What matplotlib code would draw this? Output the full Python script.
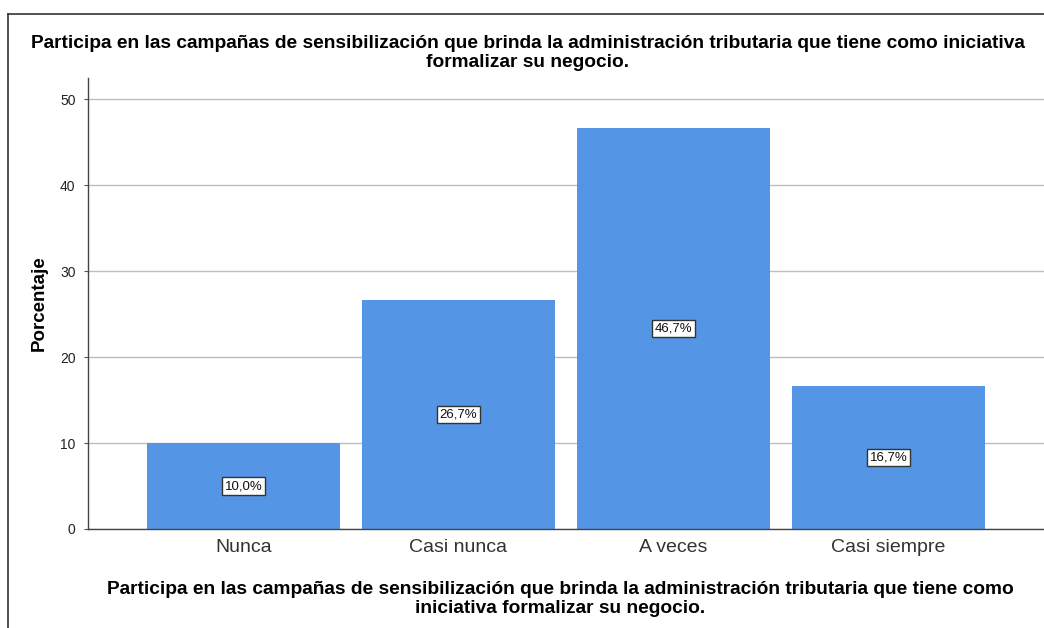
import matplotlib.pyplot as plt
from matplotlib.lines import Line2D

categorias = ['Nunca', 'Casi nunca', 'A veces', 'Casi siempre']
porcentajes = [10.0, 26.7, 46.7, 16.7]
etiquetas = ['10,0%', '26,7%', '46,7%', '16,7%']
y_ticks = [0, 10, 20, 30, 40, 50]

titulo = ('Participa en las campañas de sensibilización que brinda la administración tributaria que tiene como iniciativa\n'
          'formalizar su negocio.')
titulo_x = ('Participa en las campañas de sensibilización que brinda la administración tributaria que tiene como\n'
            'iniciativa formalizar su negocio.')

plt.rcParams['font.family'] = ['Liberation Sans', 'DejaVu Sans']

fig = plt.figure(figsize=(10.44, 6.28), dpi=100)
ax = fig.add_axes([88 / 1044, 1 - 529 / 628, 1 - 88 / 1044, (529 - 78) / 628])

x = list(range(len(categorias)))
ax.bar(x, porcentajes, width=0.9, color='#5595E5', zorder=2)
ax.set_xlim(-0.723, 3.723)
ax.set_ylim(0, 52.5)
ax.set_yticks(y_ticks)
ax.set_yticklabels([str(v) for v in y_ticks], fontsize=10, color='#222222')
ax.set_xticks(x)
ax.set_xticklabels(categorias, fontsize=14, color='#333333')
ax.tick_params(axis='x', length=0, pad=7)
ax.tick_params(axis='y', length=3, width=0.8, color='#555555', pad=6)
ax.grid(axis='y', color='#bdbdbd', linewidth=1, zorder=1)

for s in ['top', 'right']:
    ax.spines[s].set_visible(False)
for s in ['left', 'bottom']:
    ax.spines[s].set_color('#444444')
    ax.spines[s].set_linewidth(1)
    ax.spines[s].set_zorder(3)

for xi, v, lab in zip(x, porcentajes, etiquetas):
    ax.text(xi, v / 2, lab, ha='center', va='center', fontsize=9.5, color='#111111', zorder=4,
            bbox=dict(boxstyle='square,pad=0.2', facecolor='white', edgecolor='#333333', linewidth=1))

ax.set_ylabel('Porcentaje', fontsize=13.5, fontweight='bold')
ax.yaxis.set_label_coords(-40 / 956, 0.5)

fig.text(528 / 1044, 1 - 53 / 628, titulo, ha='center', va='center', fontsize=13.8,
         fontweight='bold', linespacing=1.1)
fig.text(560 / 1044, 1 - 599 / 628, titulo_x, ha='center', va='center', fontsize=13.8,
         fontweight='bold', linespacing=1.1)

# marco exterior (solo borde superior e izquierdo visibles)
fig.add_artist(Line2D([8 / 1044, 1.0], [1 - 14 / 628, 1 - 14 / 628], color='#333333', linewidth=1.2))
fig.add_artist(Line2D([8 / 1044, 8 / 1044], [0.0, 1 - 14 / 628], color='#333333', linewidth=1.2))

fig.savefig('out.png', dpi=100)
plt.close(fig)
